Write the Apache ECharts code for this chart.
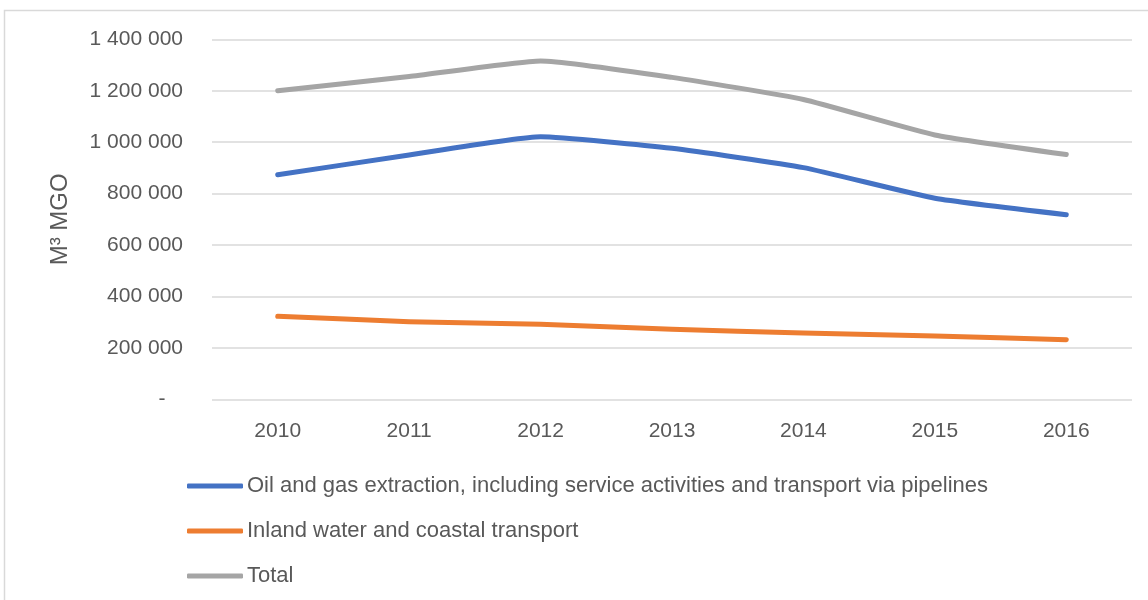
<!DOCTYPE html>
<html>
<head>
<meta charset="utf-8">
<script src="https://cdn.jsdelivr.net/npm/echarts@6/dist/echarts.min.js"></script>
<style>
  html, body { margin: 0; padding: 0; background: #fff; }
  #chart { width: 1148px; height: 600px; }
</style>
</head>
<body>
<div id="chart"></div>
<script>
// Marine gas oil consumption by sector, cubic metres
const years = ['2010', '2011', '2012', '2013', '2014', '2015', '2016'];
const oilGas = [873000, 950000, 1021000, 976000, 901000, 782000, 718000];
const inlandWater = [323000, 302000, 292000, 272000, 258000, 246000, 232000];
const total = [1200000, 1255000, 1316000, 1252000, 1166000, 1028000, 952000];

const seriesNames = [
  'Oil and gas extraction, including service activities and transport via pipelines',
  'Inland water and coastal transport',
  'Total'
];
const seriesColors = ['#4472C4', '#ED7D31', '#A5A5A5'];
const axisTitle = 'M\u00B3 MGO';

const FONT = 'Liberation Sans';
const TEXT = '#595959';

function fmt(v) {
  if (v === 0) return '-   ';
  return String(v).replace(/\B(?=(\d{3})+(?!\d))/g, ' ');
}

const chart = echarts.init(document.getElementById('chart'), null, { renderer: 'canvas' });

const lineSeries = [oilGas, inlandWater, total].map((d, i) => ({
  name: seriesNames[i],
  type: 'line',
  data: d,
  symbol: 'none',
  smooth: 0.15,
  lineStyle: { color: seriesColors[i], width: 5, cap: 'round', join: 'round' },
  itemStyle: { color: seriesColors[i] },
  z: 3 - i
}));

chart.setOption({
  animation: false,
  backgroundColor: '#fff',
  textStyle: { fontFamily: FONT, color: TEXT },
  graphic: [{
    type: 'rect',
    shape: { x: 4.5, y: 10.5, width: 1200, height: 700 },
    style: { fill: 'none', stroke: '#D9D9D9', lineWidth: 1.5 },
    silent: true
  }],
  grid: { left: 212, right: 16, top: 39.3, bottom: 200.7, containLabel: false },
  xAxis: {
    type: 'category',
    data: years,
    boundaryGap: true,
    axisLine: { show: false },
    axisTick: { show: false },
    axisLabel: { color: TEXT, fontFamily: FONT, fontSize: 21, margin: 21 }
  },
  yAxis: {
    type: 'value',
    min: 0,
    max: 1400000,
    interval: 200000,
    name: axisTitle,
    nameLocation: 'middle',
    nameGap: 140,
    nameTextStyle: { color: TEXT, fontFamily: FONT, fontSize: 24 },
    axisLine: { show: false },
    axisTick: { show: false },
    splitLine: { lineStyle: { color: '#D9D9D9', width: 1.5 } },
    axisLabel: { color: TEXT, fontFamily: FONT, fontSize: 21, margin: 29, formatter: fmt }
  },
  legend: {
    orient: 'vertical',
    left: 182,
    top: 469,
    padding: 5,
    icon: 'roundRect',
    itemWidth: 56,
    itemHeight: 5,
    itemGap: 21,
    textStyle: { color: TEXT, fontFamily: FONT, fontSize: 22, lineHeight: 24, padding: [0, 0, 0, -1] },
    data: seriesNames
  },
  series: lineSeries
});
</script>
</body>
</html>
